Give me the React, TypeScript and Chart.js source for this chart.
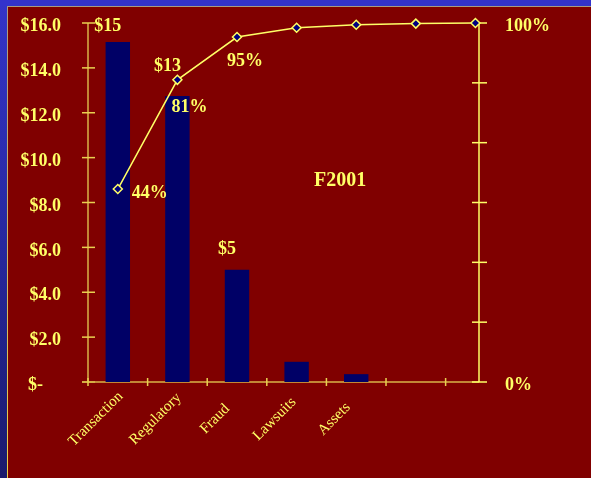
import React, { useEffect, useRef } from 'react';
import { Chart, registerables } from 'chart.js';

Chart.register(...registerables);

const categories = ['Transaction', 'Regulatory', 'Fraud', 'Lawsuits', 'Assets', '', ''];
const lossValues = [15.15, 12.75, 5.0, 0.9, 0.35];
const cumulativePct = [44.5, 81, 95.3, 98.4, 99.4, 99.8, 100];
const barLabels = ['$15', '$13', '$5', '', ''];
const pctLabels = ['44%', '81%', '95%', '', '', '', ''];
const leftTickLabels = ['$-    ', '$2.0', '$4.0', '$6.0', '$8.0', '$10.0', '$12.0', '$14.0', '$16.0'];
const rightTickLabels = ['0%', '', '', '', '', '', '100%'];
const chartTitle = 'F2001';

const FONT = "'Liberation Serif', 'Times New Roman', serif";
const TEXT = '#FFFF66';
const GOLD = '#D8B448';
const YELLOW = '#FFFF66';

const zeroPad = (s: any) => {
  s.paddingLeft = 0;
  s.paddingRight = 0;
  s.paddingTop = 0;
  s.paddingBottom = 0;
};

const axesPlugin = {
  id: 'pptAxes',
  beforeDatasetsDraw(chart: any) {
    const { ctx, chartArea: a, scales } = chart;
    const x = scales.x;
    const yl = scales.y;
    const yr = scales.y2;
    ctx.save();
    ctx.lineWidth = 1.5;
    ctx.strokeStyle = GOLD;
    ctx.beginPath();
    ctx.moveTo(a.left, a.top);
    ctx.lineTo(a.left, a.bottom);
    ctx.stroke();
    ctx.strokeStyle = '#E8D050';
    yl.ticks.forEach((t: any) => {
      const py = yl.getPixelForValue(t.value);
      ctx.beginPath();
      ctx.moveTo(a.left - 6, py);
      ctx.lineTo(a.left + 7, py);
      ctx.stroke();
    });
    ctx.strokeStyle = GOLD;
    ctx.beginPath();
    ctx.moveTo(a.left - 6, a.bottom);
    ctx.lineTo(a.right, a.bottom);
    ctx.stroke();
    ctx.strokeStyle = '#E8D050';
    for (let i = 0; i < categories.length; i++) {
      const px = x.getPixelForValue(i - 0.5);
      ctx.beginPath();
      ctx.moveTo(px, a.bottom - 4);
      ctx.lineTo(px, a.bottom + 4);
      ctx.stroke();
    }
    ctx.strokeStyle = YELLOW;
    ctx.beginPath();
    ctx.moveTo(a.right, a.top);
    ctx.lineTo(a.right, a.bottom);
    ctx.stroke();
    yr.ticks.forEach((t: any) => {
      const py = yr.getPixelForValue(t.value);
      ctx.beginPath();
      ctx.moveTo(a.right - 7, py);
      ctx.lineTo(a.right + 8, py);
      ctx.stroke();
    });
    ctx.restore();
  },
};

const labelsPlugin = {
  id: 'pptLabels',
  afterDatasetsDraw(chart: any, _args: any, opts: any) {
    const { ctx, scales, chartArea: a } = chart;
    ctx.save();
    ctx.fillStyle = TEXT;
    ctx.textAlign = 'center';
    ctx.textBaseline = 'middle';
    ctx.font = `bold 18px ${FONT}`;
    const barMeta = chart.getDatasetMeta(0);
    barMeta.data.forEach((el: any, i: number) => {
      const txt = barLabels[i];
      if (!txt) return;
      const off = opts.barOffsets[i] || [0, -18];
      ctx.fillText(txt, el.x + off[0], el.y + off[1]);
    });
    const lineMeta = chart.getDatasetMeta(1);
    lineMeta.data.forEach((el: any, i: number) => {
      const txt = pctLabels[i];
      if (!txt) return;
      const off = opts.lineOffsets[i] || [0, 20];
      ctx.fillText(txt, el.x + off[0], el.y + off[1]);
    });
    ctx.font = `bold 20px ${FONT}`;
    ctx.fillText(chartTitle, scales.x.getPixelForValue(opts.titleAt[0]), scales.y.getPixelForValue(opts.titleAt[1]));
    ctx.font = `15px ${FONT}`;
    categories.forEach((c, i) => {
      if (!c) return;
      const px = scales.x.getPixelForValue(i);
      ctx.save();
      ctx.translate(px + opts.catLabelShift[0], a.bottom + opts.catLabelShift[1]);
      ctx.rotate(-Math.PI / 4);
      ctx.fillText(c, 0, 0);
      ctx.restore();
    });
    ctx.restore();
  },
};

export default function App() {
  const ref = useRef<HTMLCanvasElement | null>(null);

  useEffect(() => {
    if (!ref.current) return;
    const chart = new Chart(ref.current, {
      type: 'bar',
      data: {
        datasets: [
          {
            type: 'bar',
            data: lossValues.map((v, i) => ({ x: i, y: v })),
            backgroundColor: '#000066',
            borderWidth: 0,
            barPercentage: 0.41,
            categoryPercentage: 1,
            xAxisID: 'x',
            yAxisID: 'y',
            order: 2,
          } as any,
          {
            type: 'line',
            data: cumulativePct.map((v, i) => ({ x: i, y: v })),
            borderColor: YELLOW,
            borderWidth: 1.5,
            pointStyle: 'rectRot',
            pointRadius: 4.5,
            pointBorderWidth: 1.5,
            pointBorderColor: YELLOW,
            pointBackgroundColor: '#000080',
            xAxisID: 'x',
            yAxisID: 'y2',
            order: 1,
            clip: false,
          } as any,
        ],
      },
      options: {
        animation: false,
        responsive: false,
        layout: { padding: { top: 23, left: 0, right: 0, bottom: 0 } },
        plugins: {
          legend: { display: false },
          tooltip: { enabled: false },
          pptLabels: {
            barOffsets: [[-10, -16], [-10, -30], [-10, -20]],
            lineOffsets: [[32, 4], [12, 28], [8, 24]],
            titleAt: [3.73, 8.95],
            catLabelShift: [-22, 37],
          },
        } as any,
        scales: {
          x: {
            type: 'linear',
            offset: false,
            min: -0.5,
            max: 6.06,
            grid: { display: false, offset: false },
            border: { display: false },
            ticks: { display: false },
            afterFit: (s: any) => {
              s.height = 96;
              zeroPad(s);
            },
          },
          y: {
            position: 'left',
            min: 0,
            max: 16,
            grid: { display: false },
            border: { display: false },
            afterFit: (s: any) => {
              s.width = 88;
              zeroPad(s);
            },
            ticks: {
              stepSize: 2,
              padding: 19,
              labelOffset: 3.5,
              color: TEXT,
              font: { family: FONT, size: 18, weight: 'bold' },
              callback: (_v: any, i: number) => leftTickLabels[i] ?? '',
            },
          },
          y2: {
            position: 'right',
            min: -20,
            max: 100,
            grid: { display: false },
            border: { display: false },
            afterFit: (s: any) => {
              s.width = 112;
              zeroPad(s);
            },
            ticks: {
              stepSize: 20,
              padding: 18,
              labelOffset: 3,
              color: TEXT,
              font: { family: FONT, size: 18, weight: 'bold' },
              callback: (_v: any, i: number) => rightTickLabels[i] ?? '',
            },
          },
        },
      },
      plugins: [axesPlugin, labelsPlugin],
    } as any);
    return () => chart.destroy();
  }, []);

  return (
    <div
      style={{
        position: 'fixed',
        left: 0,
        top: 0,
        width: 591,
        height: 478,
        overflow: 'hidden',
        background: 'linear-gradient(to bottom, #3434c8 0%, #2a2aa8 40%, #1a1a6c 100%)',
      }}
    >
      <div style={{ position: 'absolute', left: 0, top: 0, width: 591, height: 6, background: '#3333CC' }} />
      <div
        style={{
          position: 'absolute',
          left: 7,
          top: 6,
          width: 584,
          height: 472,
          background: '#800000',
          borderTop: '1px solid #A89C84',
          boxSizing: 'border-box',
        }}
      />
      <div
        style={{
          position: 'absolute',
          left: 7,
          top: 6,
          width: 1,
          height: 472,
          background: 'linear-gradient(to bottom, #A89C84, #E8D048)',
        }}
      />
      <canvas ref={ref} width={591} height={478} style={{ position: 'absolute', left: 0, top: 0 }} />
    </div>
  );
}
